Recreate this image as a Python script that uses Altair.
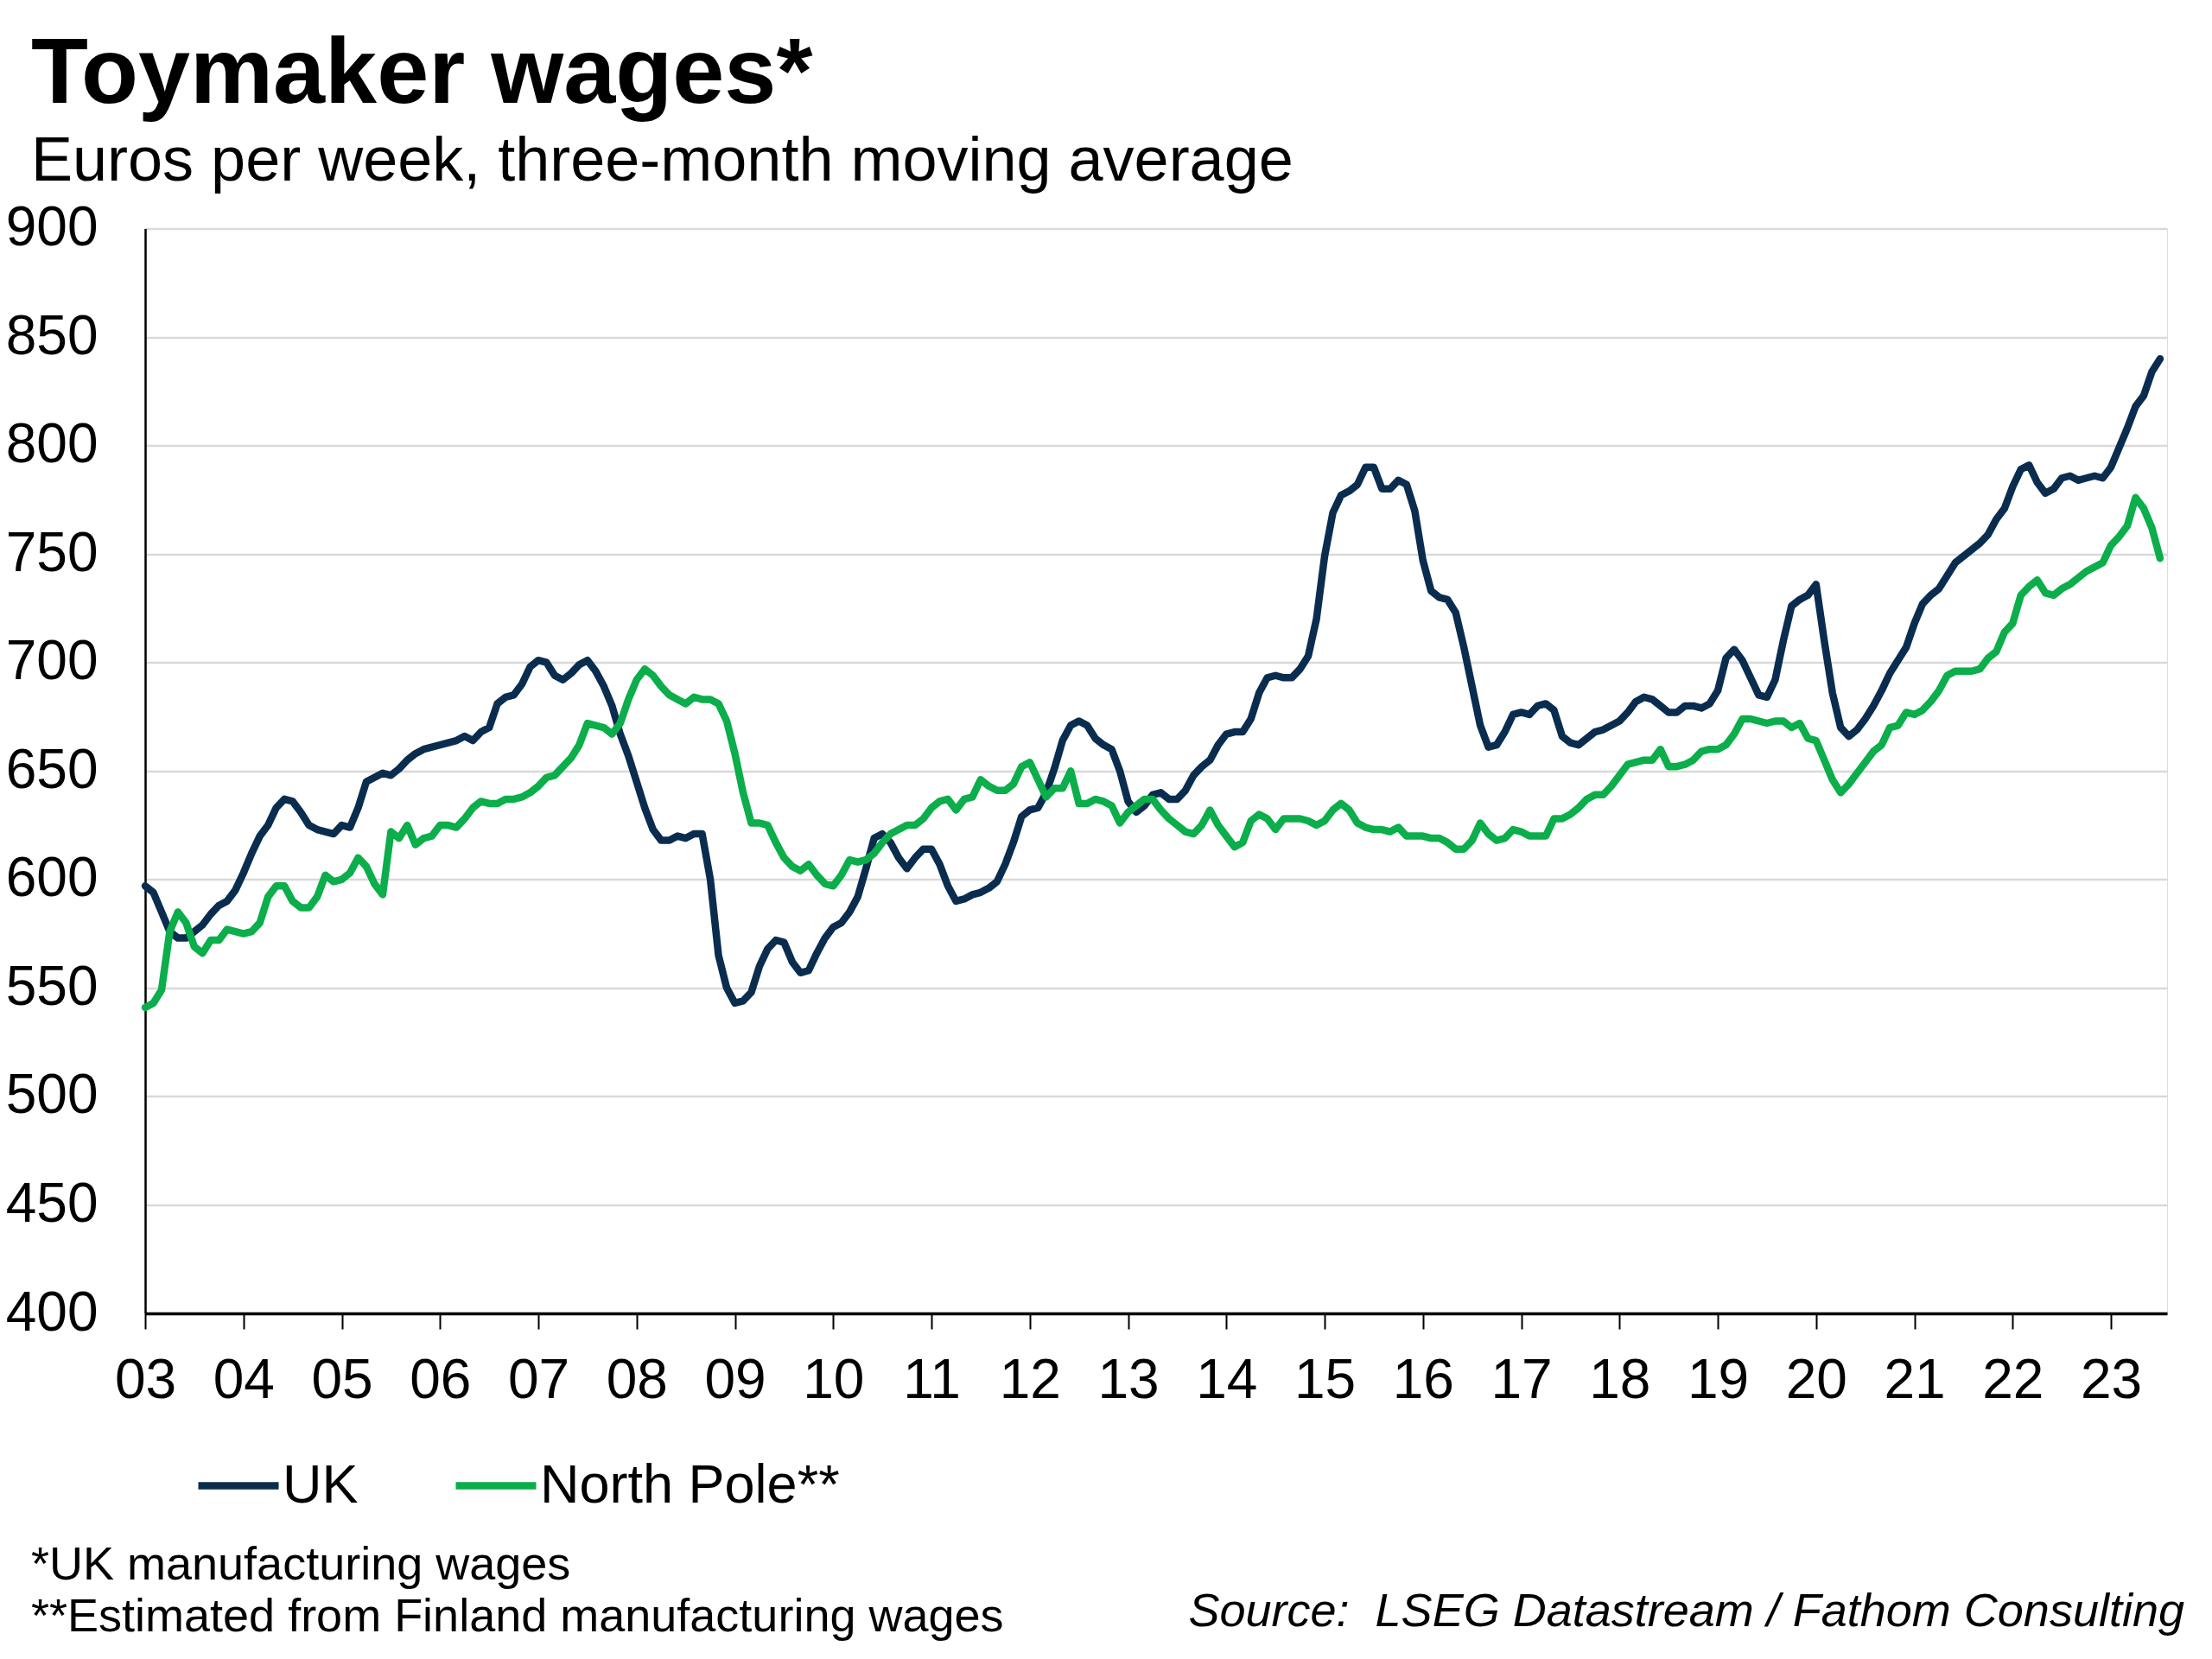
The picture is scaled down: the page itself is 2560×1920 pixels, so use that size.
import altair as alt
import pandas as pd

# Monthly values, Jan 2003 onward (three-month moving average, euros per week)
uk = [597, 594, 585, 576, 573, 573, 576, 579, 584, 588, 590, 595,
      603, 612, 620, 625, 633, 637, 636, 631, 625, 623, 622, 621,
      625, 624, 633, 645, 647, 649, 648, 651, 655, 658, 660, 661,
      662, 663, 664, 666, 664, 668, 670, 681, 684, 685, 690, 698,
      701, 700, 694, 692, 695, 699, 701, 696, 689, 680, 667, 657,
      645, 633, 623, 618, 618, 620, 619, 621, 621, 600, 565, 550,
      543, 544, 548, 560, 568, 572, 571, 562, 557, 558, 566, 573,
      578, 580, 585, 592, 605, 619, 621, 617, 610, 605, 610, 614,
      614, 607, 597, 590, 591, 593, 594, 596, 599, 607, 617, 629,
      632, 633, 640, 651, 664, 671, 673, 671, 665, 662, 660, 650,
      636, 631, 634, 639, 640, 637, 637, 641, 648, 652, 655, 662,
      667, 668, 668, 674, 686, 693, 694, 693, 693, 697, 703, 720,
      749, 769, 777, 779, 782, 790, 790, 780, 780, 784, 782, 770,
      747, 733, 730, 729, 723, 707, 689, 671, 661, 662, 668, 676,
      677, 676, 680, 681, 678, 666, 663, 662, 665, 668, 669, 671,
      673, 677, 682, 684, 683, 680, 677, 677, 680, 680, 679, 681,
      687, 702, 706, 701, 693, 685, 684, 692, 710, 726, 729, 731,
      736, 710, 686, 670, 666, 669, 674, 680, 687, 695, 701, 707,
      718, 727, 731, 734, 740, 746, 749, 752, 755, 759, 766, 771,
      781, 789, 791, 783, 778, 780, 785, 786, 784, 785, 786, 785,
      790, 799, 808, 818, 823, 834, 840]

north_pole = [541, 543, 549, 576, 585, 580, 569, 566, 572, 572, 577, 576,
              575, 576, 580, 592, 597, 597, 590, 587, 587, 592, 602, 599,
              600, 603, 610, 606, 598, 593, 622, 619, 625, 616, 619, 620,
              625, 625, 624, 628, 633, 636, 635, 635, 637, 637, 638, 640,
              643, 647, 648, 652, 656, 662, 672, 671, 670, 667, 672, 683,
              692, 697, 694, 689, 685, 683, 681, 684, 683, 683, 681, 673,
              658, 640, 626, 626, 625, 617, 610, 606, 604, 607, 602, 598,
              597, 602, 609, 608, 609, 612, 617, 621, 623, 625, 625, 628,
              633, 636, 637, 632, 637, 638, 646, 643, 641, 641, 644, 652,
              654, 646, 638, 642, 642, 650, 635, 635, 637, 636, 634, 626,
              631, 634, 637, 637, 632, 628, 625, 622, 621, 625, 632, 625,
              620, 615, 617, 627, 630, 628, 623, 628, 628, 628, 627, 625,
              627, 632, 635, 632, 626, 624, 623, 623, 622, 624, 620, 620,
              620, 619, 619, 617, 614, 614, 618, 626, 621, 618, 619, 623,
              622, 620, 620, 620, 628, 628, 630, 633, 637, 639, 639, 643,
              648, 653, 654, 655, 655, 660, 652, 652, 653, 655, 659, 660,
              660, 662, 667, 674, 674, 673, 672, 673, 673, 670, 672, 665,
              664, 655, 646, 640, 644, 649, 654, 659, 662, 670, 671, 677,
              676, 678, 682, 687, 694, 696, 696, 696, 697, 702, 705, 714,
              718, 731, 735, 738, 732, 731, 734, 736, 739, 742, 744, 746,
              754, 758, 763, 776, 771, 762, 748]

series_names = ["UK", "North Pole**"]
series_colors = ["#0A2D4F", "#0BAE4A"]
year_ticks = list(range(2003, 2024))
y_ticks = list(range(400, 901, 50))

rows = []
for name, vals in zip(series_names, [uk, north_pole]):
    for i, v in enumerate(vals):
        rows.append({"t": 2003 + i / 12.0, "value": v, "series": name})
df = pd.DataFrame(rows)

FONT = "Liberation Sans"

color = alt.Color(
    "series:N",
    scale=alt.Scale(domain=series_names, range=series_colors),
    legend=alt.Legend(
        orient="none", legendX=57, legendY=1404, direction="horizontal",
        title=None, symbolType="stroke", symbolSize=8649, symbolStrokeWidth=8.5,
        labelFont=FONT, labelFontSize=63, labelColor="black", labelOffset=0,
        columnPadding=95, labelLimit=1000,
    ),
)

x = alt.X(
    "t:Q",
    scale=alt.Scale(domain=[2003, 2023.571], nice=False, zero=False),
    axis=alt.Axis(
        values=year_ticks, labelExpr="slice(toString(datum.value), 2)",
        title=None, grid=False, tickSize=18, tickWidth=2, tickColor="black",
        domainColor="black", domainWidth=3.5, labelPadding=28,
        labelFont=FONT, labelFontSize=64, labelColor="black",
        labelFlush=False, labelOverlap=False, labelBound=False,
    ),
)
y = alt.Y(
    "value:Q",
    scale=alt.Scale(domain=[400, 900], nice=False, zero=False),
    axis=alt.Axis(
        values=y_ticks, title=None, grid=True, gridColor="#D9D9D9",
        gridWidth=2.5, ticks=False, tickSize=0, domainColor="black",
        domainWidth=2.5, labelPadding=55, labelFont=FONT, labelFontSize=64,
        labelColor="black", labelBaseline="middle",
    ),
)

line_uk = alt.Chart(df[df.series == "UK"]).mark_line(
    strokeWidth=8.5, strokeJoin="round", strokeCap="round"
).encode(x=x, y=y, color=color)
line_np = alt.Chart(df[df.series == "North Pole**"]).mark_line(
    strokeWidth=8.5, strokeJoin="round", strokeCap="round"
).encode(x=x, y=y, color=color)


def text_layer(label, xv, yv, size, weight="normal", style="normal", align="left"):
    return alt.Chart(pd.DataFrame({"label": [label]})).mark_text(
        align=align, baseline="alphabetic", font=FONT, fontSize=size,
        fontWeight=weight, fontStyle=style, color="black",
    ).encode(x=alt.value(xv), y=alt.value(yv), text="label:N")


title = text_layer("Toymaker wages*", -132, -145.5, 108, weight="bold")
subtitle = text_layer("Euros per week, three-month moving average", -132, -55.5, 72)
foot1 = text_layer("*UK manufacturing wages", -132, 1563.5, 54)
foot2 = text_layer("**Estimated from Finland manufacturing wages", -132, 1623.5, 54)
source = text_layer("Source:\u00a0 LSEG Datastream / Fathom Consulting", 2360, 1617.5, 54,
                    style="italic", align="right")

chart = alt.layer(line_uk, line_np, title, subtitle, foot1, foot2, source).properties(
    width=2340, height=1255.5,
    autosize=alt.AutoSizeParams(type="none"),
    padding={"left": 160, "top": 256.5, "right": 36, "bottom": 390},
).configure_view(stroke=None).configure(background="white")

chart.save("out.html", embed_options={"renderer": "svg", "actions": False})
